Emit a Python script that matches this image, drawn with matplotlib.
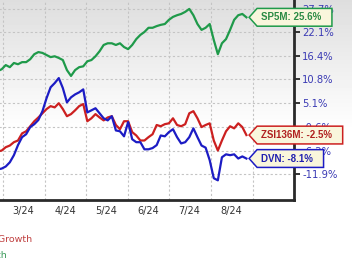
import numpy as np
import pandas as pd
import matplotlib
matplotlib.use('Agg')
import matplotlib.pyplot as plt
import matplotlib.dates as mdates
from matplotlib.path import Path
from matplotlib.ticker import FuncFormatter, NullFormatter

# price growth (%) sampled every 3 days, Feb 26 - Aug 27 2024
dates = pd.date_range('2024-02-26', periods=62, freq='3D')

sp5m = [12.75, 13.2, 14.2, 13.7, 14.7, 14.4, 14.9, 14.9, 15.6, 16.8,
        17.3, 17.1, 16.6, 16.1, 16.3, 15.9, 15.4, 13.0, 11.6, 13.0,
        13.7, 13.9, 15.1, 15.4, 16.3, 17.5, 19.0, 19.4, 19.4, 19.0,
        19.4, 18.5, 18.0, 19.0, 20.4, 21.4, 22.1, 23.1, 23.1, 23.5,
        23.8, 24.0, 25.0, 25.7, 26.1, 26.4, 26.9, 27.6, 26.1, 24.0,
        22.6, 23.1, 24.0, 20.2, 16.8, 19.4, 20.4, 22.6, 25.0, 26.1,
        26.4, 25.6]

zsi136m = [-6.4, -6.2, -5.4, -5.0, -4.2, -3.8, -2.1, -1.6, -0.4, 0.8,
           1.7, 2.7, 3.7, 4.4, 4.1, 5.1, 3.7, 2.0, 2.5, 3.4,
           4.4, 4.9, 0.8, 1.5, 2.5, 1.7, 1.0, 1.7, 2.0, -0.1,
           -1.1, 0.8, 0.8, -1.8, -2.6, -3.8, -3.8, -3.0, -2.3, -0.1,
           -0.4, 0.1, 0.3, 1.5, -0.1, -0.4, 0.1, 2.7, 3.2, 1.5,
           -0.6, -0.1, 0.3, -3.8, -6.2, -3.8, -1.6, -0.4, -0.9, 0.3,
           -0.6, -2.5]

dvn = [-10.7, -10.5, -10.0, -9.0, -7.3, -4.9, -3.0, -2.3, -0.6, 0.1,
       1.1, 3.2, 6.3, 8.9, 9.9, 11.1, 8.7, 5.3, 6.5, 7.2,
       7.7, 8.4, 2.9, 3.4, 3.9, 2.7, 1.5, 1.0, 2.0, -1.4,
       -1.6, -2.8, 0.6, -3.5, -4.2, -4.2, -5.9, -5.9, -5.6, -4.9,
       -2.6, -2.8, -1.8, -1.1, -3.0, -4.5, -4.2, -3.0, -0.9, -3.0,
       -5.0, -5.5, -8.5, -12.8, -13.3, -7.8, -7.1, -7.3, -7.1, -8.1,
       -7.6, -8.1]

yticks = [27.7, 22.1, 16.4, 10.8, 5.1, -0.6, -6.2, -11.9]

series = [
    ('SP5M', sp5m, '#1f9a4a', '#2a8a44'),
    ('ZSI136M', zsi136m, '#cc2020', '#b02020'),
    ('DVN', dvn, '#1c1cc4', '#2020b0'),
]


def tag_box(x0, y0, width, height, mutation_size):
    # label box with a pointed left side
    pad = 0.4 * mutation_size
    rpad = 1.1 * mutation_size
    x0, y0 = x0 - pad, y0 - pad
    x1, y1 = x0 + width + pad + rpad, y0 + height + 2 * pad
    tip = 0.45 * (y1 - y0)
    ym = 0.5 * (y0 + y1)
    verts = [(x0 - tip, ym), (x0, y1), (x1, y1), (x1, y0), (x0, y0), (x0 - tip, ym)]
    codes = [Path.MOVETO] + [Path.LINETO] * 4 + [Path.CLOSEPOLY]
    return Path(verts, codes)


fig = plt.figure(figsize=(3.52, 2.64), dpi=100)

# grey-to-white background
bg = fig.add_axes([0, 0, 1, 1], zorder=0)
rows = np.arange(264)
shade = np.clip(0.87 + 0.13 * rows / 130, 0, 1)
bg.imshow(shade[:, None], aspect='auto', cmap='gray', vmin=0, vmax=1,
          extent=[0, 1, 0, 1])
bg.axis('off')

ax = fig.add_axes([-0.1034, 0.2424, 0.9386, 0.7576], zorder=1)
ax.patch.set_alpha(0)

for name, vals, col, tcol in series:
    ax.plot(dates, vals, color=col, lw=1.6, zorder=3)
    ax.annotate(f"{name}: {vals[-1]}%", xy=(dates[-1], vals[-1]),
                xytext=(10.5, 0), textcoords='offset points',
                ha='left', va='center', fontsize=7, fontweight='bold',
                family='Liberation Sans', color=tcol, zorder=6,
                bbox=dict(boxstyle=tag_box, fc='#f9f6dc', ec=col, lw=1.1))

ax.set_xlim(pd.Timestamp('2024-02-01'), pd.Timestamp('2024-10-01'))
ax.set_ylim(-18.0, 29.73)

ax.xaxis.set_major_locator(mdates.MonthLocator())
ax.xaxis.set_major_formatter(NullFormatter())
ax.xaxis.set_minor_locator(mdates.MonthLocator(bymonth=range(3, 9), bymonthday=16))
ax.xaxis.set_minor_formatter(FuncFormatter(
    lambda x, pos: f"{mdates.num2date(x).month}/{mdates.num2date(x):%y}"))
ax.tick_params(axis='x', which='both', length=0, pad=4, labelsize=7,
               labelcolor='#333333')

ax.yaxis.tick_right()
ax.set_yticks(yticks)
ax.set_yticklabels([f"{v}%" for v in yticks])
ax.tick_params(axis='y', length=4, width=1.4, color='#333333', pad=2,
               labelsize=7.2, labelcolor='#3a3ab4')

ax.grid(True, which='major', color='#c4c4c4', ls=(0, (2, 2)), lw=0.8)
ax.set_axisbelow(True)

for side in ['left', 'top']:
    ax.spines[side].set_visible(False)
for side in ['right', 'bottom']:
    ax.spines[side].set_linewidth(2)
    ax.spines[side].set_color('#2a2a2a')

# cropped legend texts
fig.text(32 / 352, 1 - 240 / 264, 'ZSI136M Price Growth', ha='right', va='center',
         fontsize=6.8, color='#c04040')
fig.text(7 / 352, 1 - 255 / 264, 'S&P 500 Price Growth', ha='right', va='center',
         fontsize=6.8, color='#3a9a5a')

fig.savefig('out.png', dpi=100)
